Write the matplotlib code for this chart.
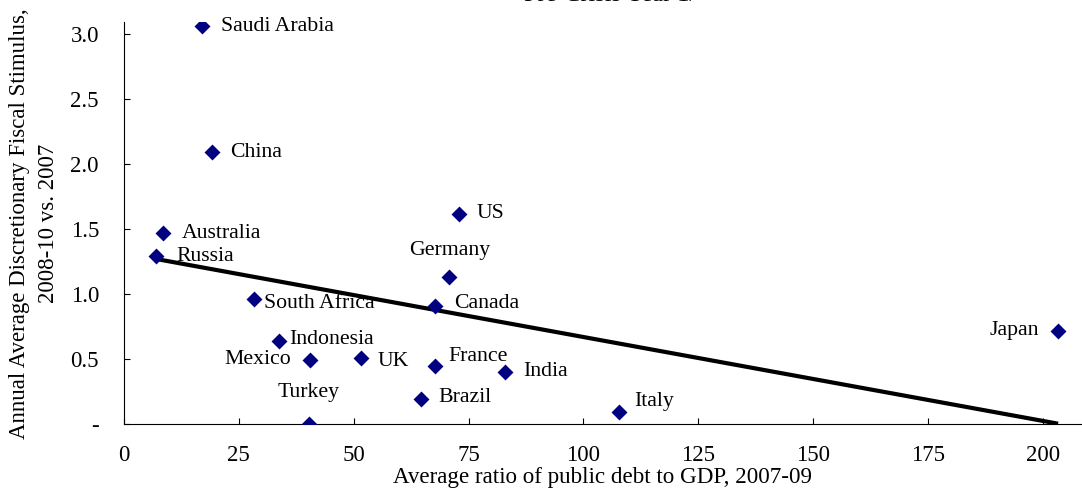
import numpy as np
import matplotlib
matplotlib.use("Agg")
import matplotlib.pyplot as plt

plt.rcParams['font.family'] = ['Liberation Serif', 'DejaVu Serif']

# data
countries = ['Saudi Arabia', 'China', 'Australia', 'Russia', 'South Africa',
             'Indonesia', 'Mexico', 'Turkey', 'UK', 'Brazil', 'France',
             'Canada', 'Germany', 'US', 'India', 'Italy', 'Japan']
debt = [17.0, 19.2, 8.4, 7.0, 28.4, 33.7, 40.5, 40.2, 51.5, 64.6, 67.6,
        67.6, 70.7, 72.9, 82.9, 107.7, 203.3]
stimulus = [3.06, 2.09, 1.47, 1.29, 0.96, 0.64, 0.49, 0.0, 0.505, 0.195, 0.446,
            0.91, 1.13, 1.615, 0.40, 0.092, 0.715]

xticks = [0, 25, 50, 75, 100, 125, 150, 175, 200]
yticks = [0, 0.5, 1.0, 1.5, 2.0, 2.5, 3.0]
ytick_labels = ['-', '0.5', '1.0', '1.5', '2.0', '2.5', '3.0']

# label placement: offset in pixels and alignment
label_pos = {
    'Saudi Arabia': (19, 0, 'left', 'center'),
    'China': (18, 0, 'left', 'center'),
    'Australia': (19, 0, 'left', 'center'),
    'Russia': (20, 0, 'left', 'center'),
    'South Africa': (10, -4, 'left', 'center'),
    'Indonesia': (10, 1, 'left', 'center'),
    'Mexico': (-19, 1, 'right', 'center'),
    'Turkey': (0, 31, 'center', 'center'),
    'UK': (17, -3, 'left', 'center'),
    'Brazil': (18, 1, 'left', 'center'),
    'France': (14, 10, 'left', 'center'),
    'Canada': (20, 2, 'left', 'center'),
    'Germany': (1, 27, 'center', 'center'),
    'US': (18, 1, 'left', 'center'),
    'India': (18, 1, 'left', 'center'),
    'Italy': (15, 11, 'left', 'center'),
    'Japan': (-19, 1, 'right', 'center'),
}

fig = plt.figure(figsize=(10.82, 4.91), dpi=100)
ax = fig.add_axes([0.1146, 0.1365, 0.8854, 0.8181])

ax.scatter(debt, stimulus, marker='D', s=66, color='#000080', zorder=3,
           linewidths=0)

# linear trend over the data range
coef = np.polyfit(debt, stimulus, 1)
xs = np.array([min(debt), max(debt)])
ax.plot(xs, np.polyval(coef, xs), color='black', lw=3, zorder=2,
        solid_capstyle='butt')

for name, x, y in zip(countries, debt, stimulus):
    dx, dy, ha, va = label_pos[name]
    ax.annotate(name, (x, y), xytext=(dx, dy), textcoords='offset pixels',
                ha=ha, va=va, fontsize=15.7)

ax.set_xlim(0, 208.5)
ax.set_ylim(0, 3.092)
ax.set_xticks(xticks)
ax.set_yticks(yticks)
ax.set_yticklabels(ytick_labels)
ax.tick_params(axis='both', direction='in', length=4.5, width=0.8,
               labelsize=16.5)
ax.tick_params(axis='y', pad=18)
ax.tick_params(axis='x', pad=15)
ax.spines['top'].set_visible(False)
ax.spines['right'].set_visible(False)

ax.set_xlabel('Average ratio of public debt to GDP, 2007-09', fontsize=16.6,
              labelpad=1)
ax.set_ylabel('Annual Average Discretionary Fiscal Stimulus,\n2008-10 vs. 2007',
              fontsize=16.5, labelpad=8, linespacing=1.55)

fig.text(0.564, 1.01, 'Pre-Crisis Year 1/', ha='center', va='center',
         fontsize=17.5)

fig.savefig('out.png', dpi=100)
